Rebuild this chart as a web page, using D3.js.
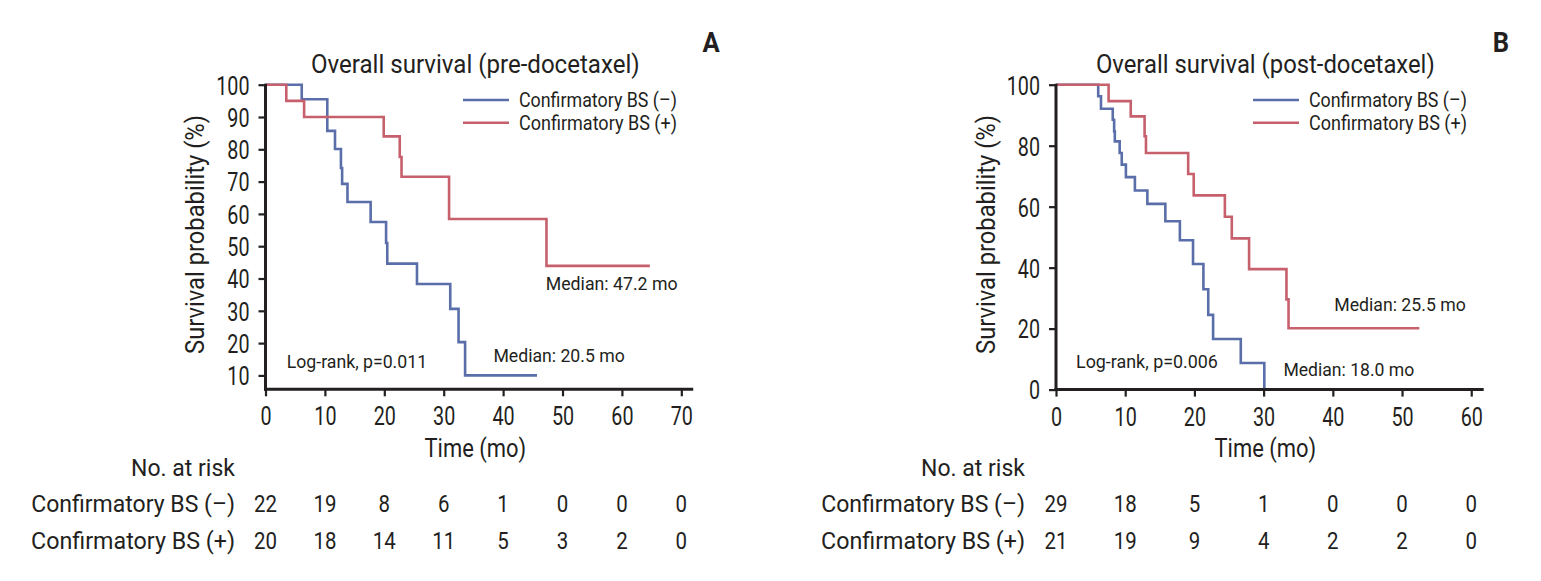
<!DOCTYPE html>
<html><head><meta charset="utf-8">
<script src="https://cdn.jsdelivr.net/npm/d3@7"></script>
<style>
html,body{margin:0;padding:0;background:#fff;}
svg{display:block;}
text{font-family:Roboto, "Liberation Sans", sans-serif;fill:#231f20;}
</style></head>
<body>
<svg id="chart" width="1541" height="581"></svg>
<script>
// ---------- DATA ----------
const seriesNames = ["Confirmatory BS (\u2013)", "Confirmatory BS (+)"];

// Panel A: Overall survival (pre-docetaxel)
const A_neg_time = [0, 6.1, 10.4, 11.7, 12.7, 12.9, 13.8, 17.7, 20.3, 20.5, 25.5, 31.1, 32.5, 33.6, 45.7];
const A_neg_surv = [100, 95.5, 85.7, 80.1, 74.2, 69.3, 63.7, 57.5, 51.0, 44.6, 38.3, 30.6, 20.3, 10.0, 10.0];
const A_pos_time = [0, 3.5, 6.5, 19.9, 22.6, 22.9, 30.9, 47.3, 64.7];
const A_pos_surv = [100, 95.0, 90.0, 84.0, 77.6, 71.5, 58.4, 43.9, 43.9];
const A_xticks = [0, 10, 20, 30, 40, 50, 60, 70];
const A_yticks = [10, 20, 30, 40, 50, 60, 70, 80, 90, 100];
const A_risk_neg = [22, 19, 8, 6, 1, 0, 0, 0];
const A_risk_pos = [20, 18, 14, 11, 5, 3, 2, 0];

// Panel B: Overall survival (post-docetaxel)
const B_neg_time = [0, 6.1, 6.5, 8.2, 8.4, 8.5, 9.2, 9.5, 10.1, 11.4, 13.2, 15.8, 17.9, 19.8, 21.3, 22.0, 22.7, 26.7, 30.1];
const B_neg_surv = [100, 96.2, 92.1, 88.5, 84.7, 81.4, 77.6, 73.8, 69.7, 65.3, 60.9, 55.2, 49.0, 41.2, 32.9, 24.5, 16.6, 8.7, 0];
const B_pos_time = [0, 7.6, 10.8, 12.8, 13.0, 19.1, 19.9, 24.4, 25.4, 27.9, 33.3, 33.6, 52.5];
const B_pos_surv = [100, 94.6, 89.6, 83.1, 77.6, 70.7, 63.7, 56.7, 49.6, 39.5, 29.6, 20.1, 20.1];
const B_xticks = [0, 10, 20, 30, 40, 50, 60];
const B_yticks = [0, 20, 40, 60, 80, 100];
const B_risk_neg = [29, 18, 5, 1, 0, 0, 0];
const B_risk_pos = [21, 19, 9, 4, 2, 2, 0];

const titles = ["Overall survival (pre-docetaxel)", "Overall survival (post-docetaxel)"];
const panelLetters = ["A", "B"];
const logranks = ["Log-rank, p=0.011", "Log-rank, p=0.006"];
const A_medians = ["Median: 20.5 mo", "Median: 47.2 mo"];
const B_medians = ["Median: 18.0 mo", "Median: 25.5 mo"];
const xLabel = "Time (mo)";
const yLabel = "Survival probability (%)";
const riskLabel = "No. at risk";

// ---------- STYLE ----------
const colors = ["#5a6ea9", "#c6606d"];
const svg = d3.select("#chart");

function addText(parent, str, x, y, o) {
  const t = parent.append("text").text(str)
    .attr("text-anchor", o.anchor || "start")
    .attr("font-size", o.size)
    .attr("font-weight", o.weight || "normal");
  const len = t.node().getComputedTextLength();
  const k = o.width ? o.width / len : (o.k || 1);
  t.attr("transform", `translate(${x},${y})` + (o.rotate ? ` rotate(${o.rotate})` : "") + ` scale(${k},1)`);
  return t;
}

const panels = [
  { xr: [265.5, 693.2], xmax: 72, yr: [389.3, 84.7], ymin: 5.7, xticks: A_xticks, yticks: A_yticks,
    neg: [A_neg_time, A_neg_surv], pos: [A_pos_time, A_pos_surv], risk: [A_risk_neg, A_risk_pos],
    cx: 475.3, titleW: 329, letterX: 711, legX: 463, ylabX: 196,
    lr: { x: 286.7, y: 368.3, w: 140.5 },
    med: [{ s: A_medians[0], x: 493.4, y: 361.7, w: 131.5 }, { s: A_medians[1], x: 545.7, y: 290, w: 132 }],
    tabR: 235 },
  { xr: [1056, 1483.7], xmax: 61.8, yr: [389.6, 84.7], ymin: 0, xticks: B_xticks, yticks: B_yticks,
    neg: [B_neg_time, B_neg_surv], pos: [B_pos_time, B_pos_surv], risk: [B_risk_neg, B_risk_pos],
    cx: 1265.3, titleW: 339, letterX: 1501, legX: 1253, ylabX: 987,
    lr: { x: 1076, y: 368.3, w: 142 },
    med: [{ s: B_medians[0], x: 1283.4, y: 376, w: 131 }, { s: B_medians[1], x: 1334.3, y: 310.7, w: 131.6 }],
    tabR: 1025 }
];

panels.forEach((p, pi) => {
  const g = svg.append("g");
  const x = d3.scaleLinear().domain([0, p.xmax]).range(p.xr);
  const y = d3.scaleLinear().domain([p.ymin, 100]).range(p.yr);

  // curves
  const line = d3.line().x(d => x(d[0])).y(d => y(d[1])).curve(d3.curveStepAfter);
  [p.neg, p.pos].forEach((s, si) => {
    const pts = s[0].map((t, i) => [t, s[1][i]]);
    g.append("path").attr("d", line(pts)).attr("fill", "none")
      .attr("stroke", colors[si]).attr("stroke-width", 2.6);
  });

  // axes
  const yAxis = d3.axisLeft(y).tickValues(p.yticks).tickSize(7).tickSizeOuter(0).tickPadding(9);
  const xAxis = d3.axisBottom(x).tickValues(p.xticks).tickSize(7).tickSizeOuter(0).tickPadding(9);
  const ya = g.append("g").attr("transform", `translate(${p.xr[0]},0)`).call(yAxis);
  const xa = g.append("g").attr("transform", `translate(0,${p.yr[0]})`).call(xAxis);
  [ya, xa].forEach(a => {
    a.select(".domain").remove();
    a.selectAll(".tick line").attr("stroke", "#231f20").attr("stroke-width", 2.2);
    a.selectAll(".tick text").attr("font-size", 26).attr("font-family", "Roboto").attr("fill", "#231f20");
  });
  const kT = 0.76;
  ya.selectAll(".tick text").attr("x", -16 / kT).attr("dy", "0.36em").attr("transform", `scale(${kT},1)`);
  xa.selectAll(".tick text").attr("y", 0).attr("dy", 0)
    .attr("transform", `translate(0,36) scale(${kT},1)`);
  // axis lines
  g.append("line").attr("x1", x(0)).attr("x2", x(0)).attr("y1", y(100) - 1).attr("y2", y(p.ymin) + 1.5)
    .attr("stroke", "#231f20").attr("stroke-width", 3);
  g.append("line").attr("x1", x(0) - 1.5).attr("x2", x(p.xmax)).attr("y1", y(p.ymin)).attr("y2", y(p.ymin))
    .attr("stroke", "#231f20").attr("stroke-width", 3);

  // titles and labels
  addText(g, titles[pi], p.cx, 73, { anchor: "middle", size: 25, width: p.titleW });
  addText(g, panelLetters[pi], p.letterX, 52, { anchor: "middle", size: 27, weight: "bold", k: 0.95 });
  addText(g, xLabel, p.cx, 457, { anchor: "middle", size: 25, width: 101.6 });
  addText(g, yLabel, p.ylabX + 8, 234.5, { anchor: "middle", size: 25, width: 239, rotate: -90 });

  // legend
  seriesNames.forEach((n, si) => {
    const ly = 100 + si * 22.7;
    g.append("line").attr("x1", p.legX).attr("x2", p.legX + 46).attr("y1", ly).attr("y2", ly)
      .attr("stroke", colors[si]).attr("stroke-width", 2.6);
    addText(g, n, p.legX + 56, ly + 7, { size: 20.5, width: 158 });
  });

  // annotations
  addText(g, logranks[pi], p.lr.x, p.lr.y, { size: 18.5, width: p.lr.w });
  p.med.forEach(m => addText(g, m.s, m.x, m.y, { size: 18.5, width: m.w }));

  // risk table
  addText(g, riskLabel, p.tabR, 476, { anchor: "end", size: 23.5, width: 104 });
  seriesNames.forEach((n, si) => {
    const ry = 512 + si * 36.5;
    addText(g, n, p.tabR, ry, { anchor: "end", size: 23.5, width: 204 });
    p.risk[si].forEach((v, i) => {
      addText(g, String(v), x(p.xticks[i]), ry, { anchor: "middle", size: 23.5, k: 0.87 });
    });
  });
});
</script>
</body></html>
